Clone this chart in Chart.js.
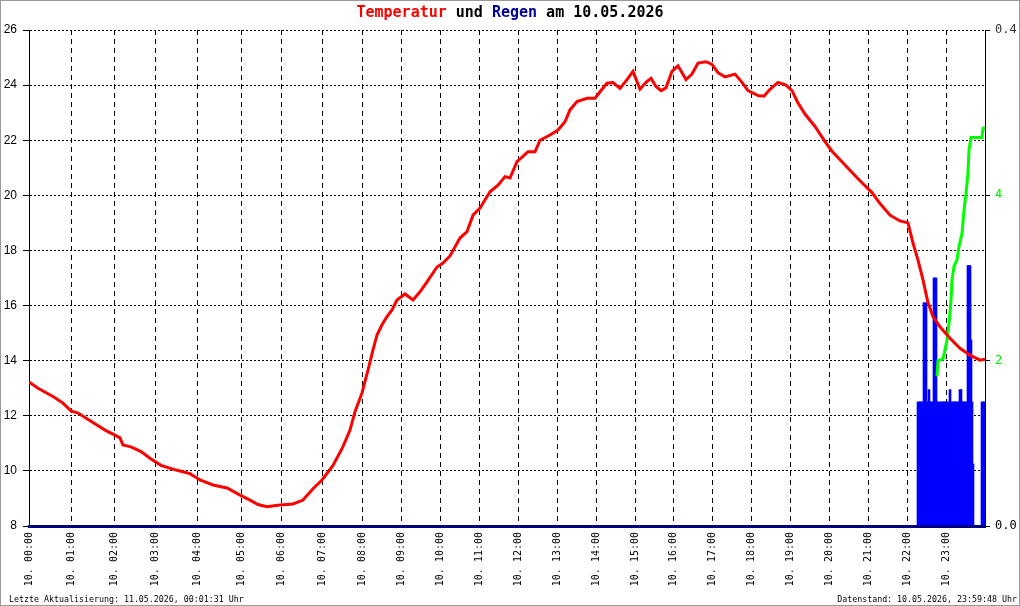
<!DOCTYPE html>
<html>
<head>
<meta charset="utf-8">
<script src="https://cdn.jsdelivr.net/npm/chart.js@4.4.1/dist/chart.umd.min.js"></script>
<style>
  body { margin: 0; background: #fff; }
  #wrap { position: relative; width: 1020px; height: 606px; overflow: hidden; }
  #c { display: block; }
  #frame { position: absolute; left: 0; top: 0; width: 1020px; height: 606px; border: 1px solid #999; box-sizing: border-box; pointer-events: none; }
  .title { position: absolute; left: 0; top: 5px; width: 1020px; text-align: center; font: bold 15px/15px "DejaVu Sans Mono", monospace; white-space: pre; }
  .foot { position: absolute; top: 595px; font: 8.3px/9px "DejaVu Sans Mono", monospace; white-space: pre; color: #000; }
</style>
</head>
<body>
<div id="wrap">
  <canvas id="c" width="1020" height="606"></canvas>
  <div class="title"><span style="color:#ff0000">Temperatur</span> und <span style="color:#000099">Regen</span> am 10.05.2026</div>
  <div class="foot" style="left:9px">Letzte Aktualisierung: 11.05.2026, 00:01:31 Uhr</div>
  <div class="foot" style="right:3px">Datenstand: 10.05.2026, 23:59:48 Uhr</div>
  <div id="frame"></div>
</div>
<script>
// x = Messwert-Nummer (Samples), nicht ganz gleichmässig pro Stunde
const hourTicks = [0, 42, 85.5, 126, 168, 212, 252, 293, 333, 372.5, 411.5, 450.5, 489.5,
  528.5, 567.5, 606.5, 644.5, 683, 722.5, 761.5, 800.5, 839.5, 878.5, 917.5];
const hourLabels = ['10. 00:00', '10. 01:00', '10. 02:00', '10. 03:00', '10. 04:00', '10. 05:00',
  '10. 06:00', '10. 07:00', '10. 08:00', '10. 09:00', '10. 10:00', '10. 11:00', '10. 12:00',
  '10. 13:00', '10. 14:00', '10. 15:00', '10. 16:00', '10. 17:00', '10. 18:00', '10. 19:00',
  '10. 20:00', '10. 21:00', '10. 22:00', '10. 23:00'];
const lastSample = 956;

// Temperatur (°C)
const tempIdx = [0, 9, 24, 34, 42, 49, 62, 76, 86, 91, 94, 102, 112, 122, 132, 147, 154, 161, 171,
  184, 198, 211, 221, 229, 238, 251, 264, 274, 284, 293, 304, 314, 321, 326, 333, 339, 344, 348,
  353, 358, 363, 368, 376, 384, 391, 398, 408, 414, 421, 431, 438, 444, 451, 461, 469, 476, 481,
  488, 499, 506, 511, 521, 529, 536, 541, 548, 558, 566, 571, 578, 584, 591, 598, 604, 611, 617,
  622, 627, 632, 637, 643, 649, 657, 663, 669, 677, 683, 689, 696, 706, 713, 719, 729, 735, 741,
  749, 757, 763, 769, 776, 786, 796, 803, 816, 829, 843, 851, 861, 871, 879, 884, 889, 894, 899,
  904, 911, 921, 931, 941, 951, 956];
const tempVals = [13.23, 13.0, 12.7, 12.46, 12.18, 12.1, 11.8, 11.48, 11.3, 11.2, 10.94, 10.87,
  10.7, 10.43, 10.2, 10.03, 9.97, 9.9, 9.67, 9.49, 9.38, 9.12, 8.94, 8.78, 8.7, 8.76, 8.8, 8.94,
  9.35, 9.67, 10.2, 10.88, 11.48, 12.15, 12.83, 13.66, 14.39, 14.93, 15.3, 15.6, 15.84, 16.2,
  16.42, 16.2, 16.5, 16.86, 17.4, 17.54, 17.8, 18.45, 18.68, 19.28, 19.54, 20.13, 20.37, 20.68,
  20.63, 21.22, 21.58, 21.58, 22.0, 22.19, 22.37, 22.67, 23.1, 23.4, 23.52, 23.52, 23.76, 24.07,
  24.09, 23.88, 24.2, 24.5, 23.85, 24.1, 24.25, 23.95, 23.8, 23.9, 24.5, 24.7, 24.2, 24.4, 24.8,
  24.85, 24.75, 24.45, 24.3, 24.4, 24.1, 23.8, 23.62, 23.6, 23.85, 24.1, 24.0, 23.8, 23.35, 22.95,
  22.5, 21.95, 21.6, 21.1, 20.6, 20.1, 19.7, 19.28, 19.07, 19.0, 18.27, 17.65, 16.93, 16.1, 15.6,
  15.23, 14.81, 14.45, 14.2, 14.02, 14.05];

// Regensumme (rechte Achse)
const sumIdx = [908, 909, 914, 916, 918, 920, 922, 923, 925, 928, 930, 933, 935, 937, 939, 940, 942, 953, 954, 956];
const sumVals = [1.81, 2.0, 2.02, 2.13, 2.25, 2.45, 2.73, 2.98, 3.14, 3.22, 3.38, 3.54, 3.82, 4.02,
  4.27, 4.55, 4.7, 4.7, 4.81, 4.81];

// Regen pro Messwert (mm), ab Sample 889
const rainStart = 889;
const rainVals = [0.1, 0.1, 0.1, 0.1, 0.1, 0.1, 0.18, 0.18, 0.18, 0.1, 0.1, 0.11, 0.1, 0.1, 0.1, 0.1,
  0.2, 0.2, 0.2, 0.1, 0.1, 0.1, 0, 0.1, 0.1, 0.1, 0.1, 0.1, 0.1, 0.1, 0.1, 0.1, 0.11, 0.1, 0.1, 0.1,
  0.1, 0.1, 0.1, 0.1, 0.1, 0.1, 0.11, 0.11, 0.1, 0.1, 0.1, 0.1, 0.1, 0.1, 0.21, 0.21, 0.21, 0.15,
  0.1, 0.05, 0, 0, 0, 0, 0, 0, 0, 0, 0.1, 0.1, 0.1, 0.1];

const rightTicks = [0, 2, 4, 6];
const rightLabels = ['0.0', '2', '4', '0.4'];
const rightColors = ['#000000', '#00ee00', '#00ee00', '#333333'];

const tempData = tempIdx.map((x, i) => ({ x: x, y: tempVals[i] }));
const sumData = sumIdx.map((x, i) => ({ x: x, y: sumVals[i] }));
const rainData = rainVals.map((v, i) => ({ x: rainStart + i, y: v }));

const ctx = document.getElementById('c').getContext('2d');
new Chart(ctx, {
  type: 'line',
  data: {
    datasets: [
      {
        label: 'Temperatur',
        data: tempData,
        borderColor: '#ff0000',
        borderWidth: 3,
        pointRadius: 0,
        tension: 0,
        yAxisID: 'y',
        order: 1
      },
      {
        label: 'Regensumme',
        data: sumData,
        borderColor: '#00ff00',
        borderWidth: 3,
        pointRadius: 0,
        tension: 0,
        yAxisID: 'ySum',
        order: 2
      },
      {
        type: 'bar',
        label: 'Regen',
        data: rainData,
        backgroundColor: '#0000ff',
        borderWidth: 0,
        barThickness: 2,
        grouped: false,
        yAxisID: 'yRain',
        order: 3
      }
    ]
  },
  options: {
    responsive: false,
    animation: false,
    devicePixelRatio: 1,
    layout: { padding: { top: 30, left: 0, right: 0, bottom: 0 } },
    plugins: { legend: { display: false }, tooltip: { enabled: false }, title: { display: false } },
    scales: {
      x: {
        type: 'linear',
        min: 0,
        max: lastSample,
        offset: false,
        afterBuildTicks: axis => { axis.ticks = hourTicks.map(v => ({ value: v })); },
        afterFit: axis => { axis.height = 80; },
        grid: { color: '#000', lineWidth: 1, drawTicks: false, offset: false },
        border: { color: '#000080', width: 3, dash: [5, 4], z: 1 },
        ticks: {
          autoSkip: false,
          minRotation: 90,
          maxRotation: 90,
          padding: 6,
          color: '#000',
          font: { family: 'DejaVu Sans Mono', size: 10 },
          callback: (value, index) => hourLabels[index]
        }
      },
      y: {
        position: 'left',
        min: 8,
        max: 26,
        afterFit: axis => { axis.width = 29; },
        grid: { color: '#000', lineWidth: 1, tickLength: 6 },
        border: { color: '#000', width: 1, dash: [2, 2] },
        ticks: {
          stepSize: 2,
          padding: 6,
          color: '#000',
          font: { family: 'Liberation Sans', size: 12 }
        }
      },
      ySum: {
        position: 'right',
        min: 0,
        max: 6,
        afterFit: axis => { axis.width = 35; },
        afterBuildTicks: axis => { axis.ticks = rightTicks.map(v => ({ value: v })); },
        grid: { drawOnChartArea: false, color: '#000', tickLength: 5 },
        border: { color: '#000', width: 1 },
        ticks: {
          padding: 5,
          color: c => rightColors[c.index],
          font: { family: 'DejaVu Sans Mono', size: 12 },
          callback: (value, index) => rightLabels[index]
        }
      },
      yRain: {
        display: false,
        min: 0,
        max: 0.4
      }
    }
  }
});
</script>
</body>
</html>
